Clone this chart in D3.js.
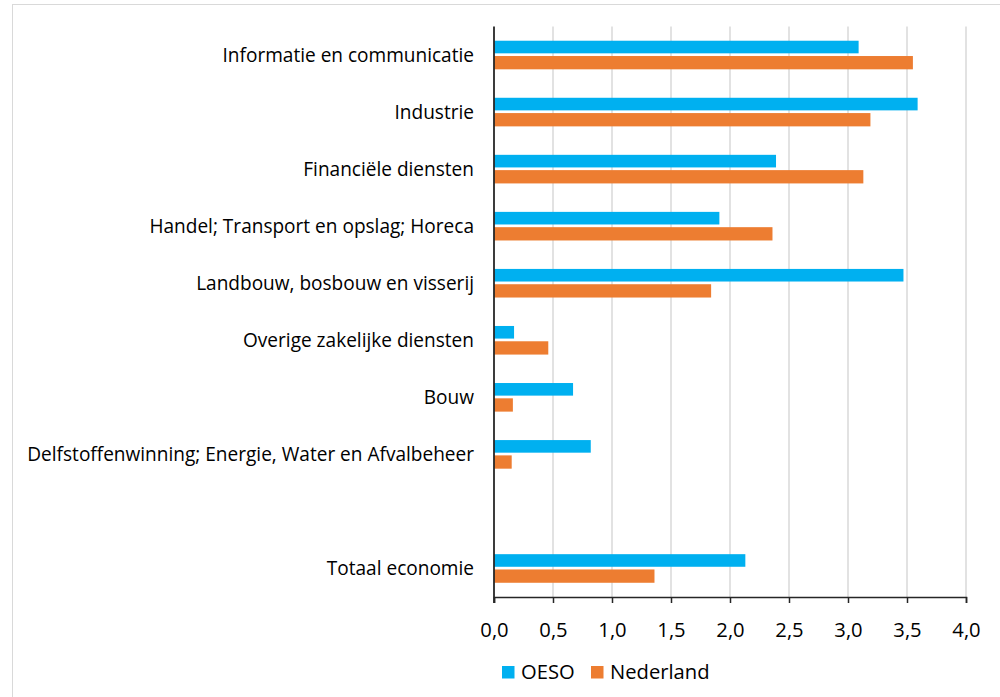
<!DOCTYPE html>
<html><head><meta charset="utf-8">
<script src="https://cdn.jsdelivr.net/npm/d3@7"></script>
<style>body{margin:0;background:#fff}svg{display:block}text{font-family:"Open Sans",sans-serif}</style>
</head><body><svg id="c" width="1000" height="697"></svg>
<script>
const categories = ["Informatie en communicatie","Industrie","Financiële diensten","Handel; Transport en opslag; Horeca","Landbouw, bosbouw en visserij","Overige zakelijke diensten","Bouw","Delfstoffenwinning; Energie, Water en Afvalbeheer","","Totaal economie"];
const oeso =      [3.09, 3.59, 2.39, 1.91, 3.47, 0.17, 0.67, 0.82, null, 2.13];
const nederland = [3.55, 3.19, 3.13, 2.36, 1.84, 0.46, 0.16, 0.15, null, 1.36];
const seriesNames = ["OESO","Nederland"];
const colors = ["#00B0F0","#ED7D31"];
const xTicks = [0,0.5,1,1.5,2,2.5,3,3.5,4];

const svg = d3.select("#c");
const L=494, R=966, T=26.5, B=597;
svg.append("rect").attr("x",12.5).attr("y",4.5).attr("width",1000).attr("height",720).attr("fill","#fff").attr("stroke","#d9d9d9").attr("stroke-width",1);

const x = d3.scaleLinear().domain([0,4]).range([L,R]);
const y = d3.scaleBand().domain(categories.map((c,i)=>i)).range([T,B]);

function fit(sel, target, base){
  sel.attr("font-size",base);
  const w = sel.node().getComputedTextLength();
  return base*target/w;
}

// gridlines
svg.append("g").selectAll("line").data(xTicks.slice(1)).join("line")
  .attr("x1",d=>x(d)).attr("x2",d=>x(d)).attr("y1",T).attr("y2",B)
  .attr("stroke","#d9d9d9").attr("stroke-width",1.5);

const data = categories.map((c,i)=>({i,c,v:[oeso[i],nederland[i]]}));
const g = svg.append("g");
const labels = svg.append("g");
data.forEach(d=>{
  const cy = y(d.i)+y.bandwidth()/2;
  d.v.forEach((v,s)=>{
    if(v==null) return;
    g.append("rect").attr("x",L).attr("y", s===0? cy-14.3 : cy+1)
      .attr("width",x(v)-L).attr("height", s===0?12.6:13.3).attr("fill",colors[s]);
  });
  if(d.c) labels.append("text").attr("x",474).attr("y",cy).attr("dy","0.35em").attr("text-anchor","end")
    .attr("fill","#000").text(d.c);
});
const longest = labels.selectAll("text").filter(d=>false);
let lt = labels.selectAll("text").filter(function(){return this.textContent.startsWith("Delfstoffen");});
const catSize = fit(lt, 447, 17);
labels.selectAll("text").attr("font-size",catSize);

// axes
const xAxis = d3.axisBottom(x).tickValues(xTicks).tickSize(6).tickFormat(d=>d3.format(".1f")(d).replace(".",","));
const ax = svg.append("g").attr("transform",`translate(0,${B})`).call(xAxis);
ax.select(".domain").attr("stroke","#262626").attr("stroke-width",1.5);
ax.selectAll(".tick line").attr("stroke","#262626").attr("stroke-width",1.5);
ax.selectAll(".tick text").attr("font-size",catSize*1.06).attr("fill","#000").attr("y",26).attr("dy","0.71em")
  .style("font-family","'Open Sans',sans-serif");
svg.append("line").attr("x1",L).attr("x2",L).attr("y1",T).attr("y2",B+6).attr("stroke","#262626").attr("stroke-width",1.8);

// legend
const legX=[502,591];
seriesNames.forEach((n,s)=>{
  svg.append("rect").attr("x",legX[s]).attr("y",666).attr("width",12.5).attr("height",12.5).attr("fill",colors[s]);
  svg.append("text").attr("x",legX[s]+19).attr("y",672).attr("dy","0.35em").attr("font-size",catSize*1.06).attr("fill","#000").text(n);
});
</script></body></html>
